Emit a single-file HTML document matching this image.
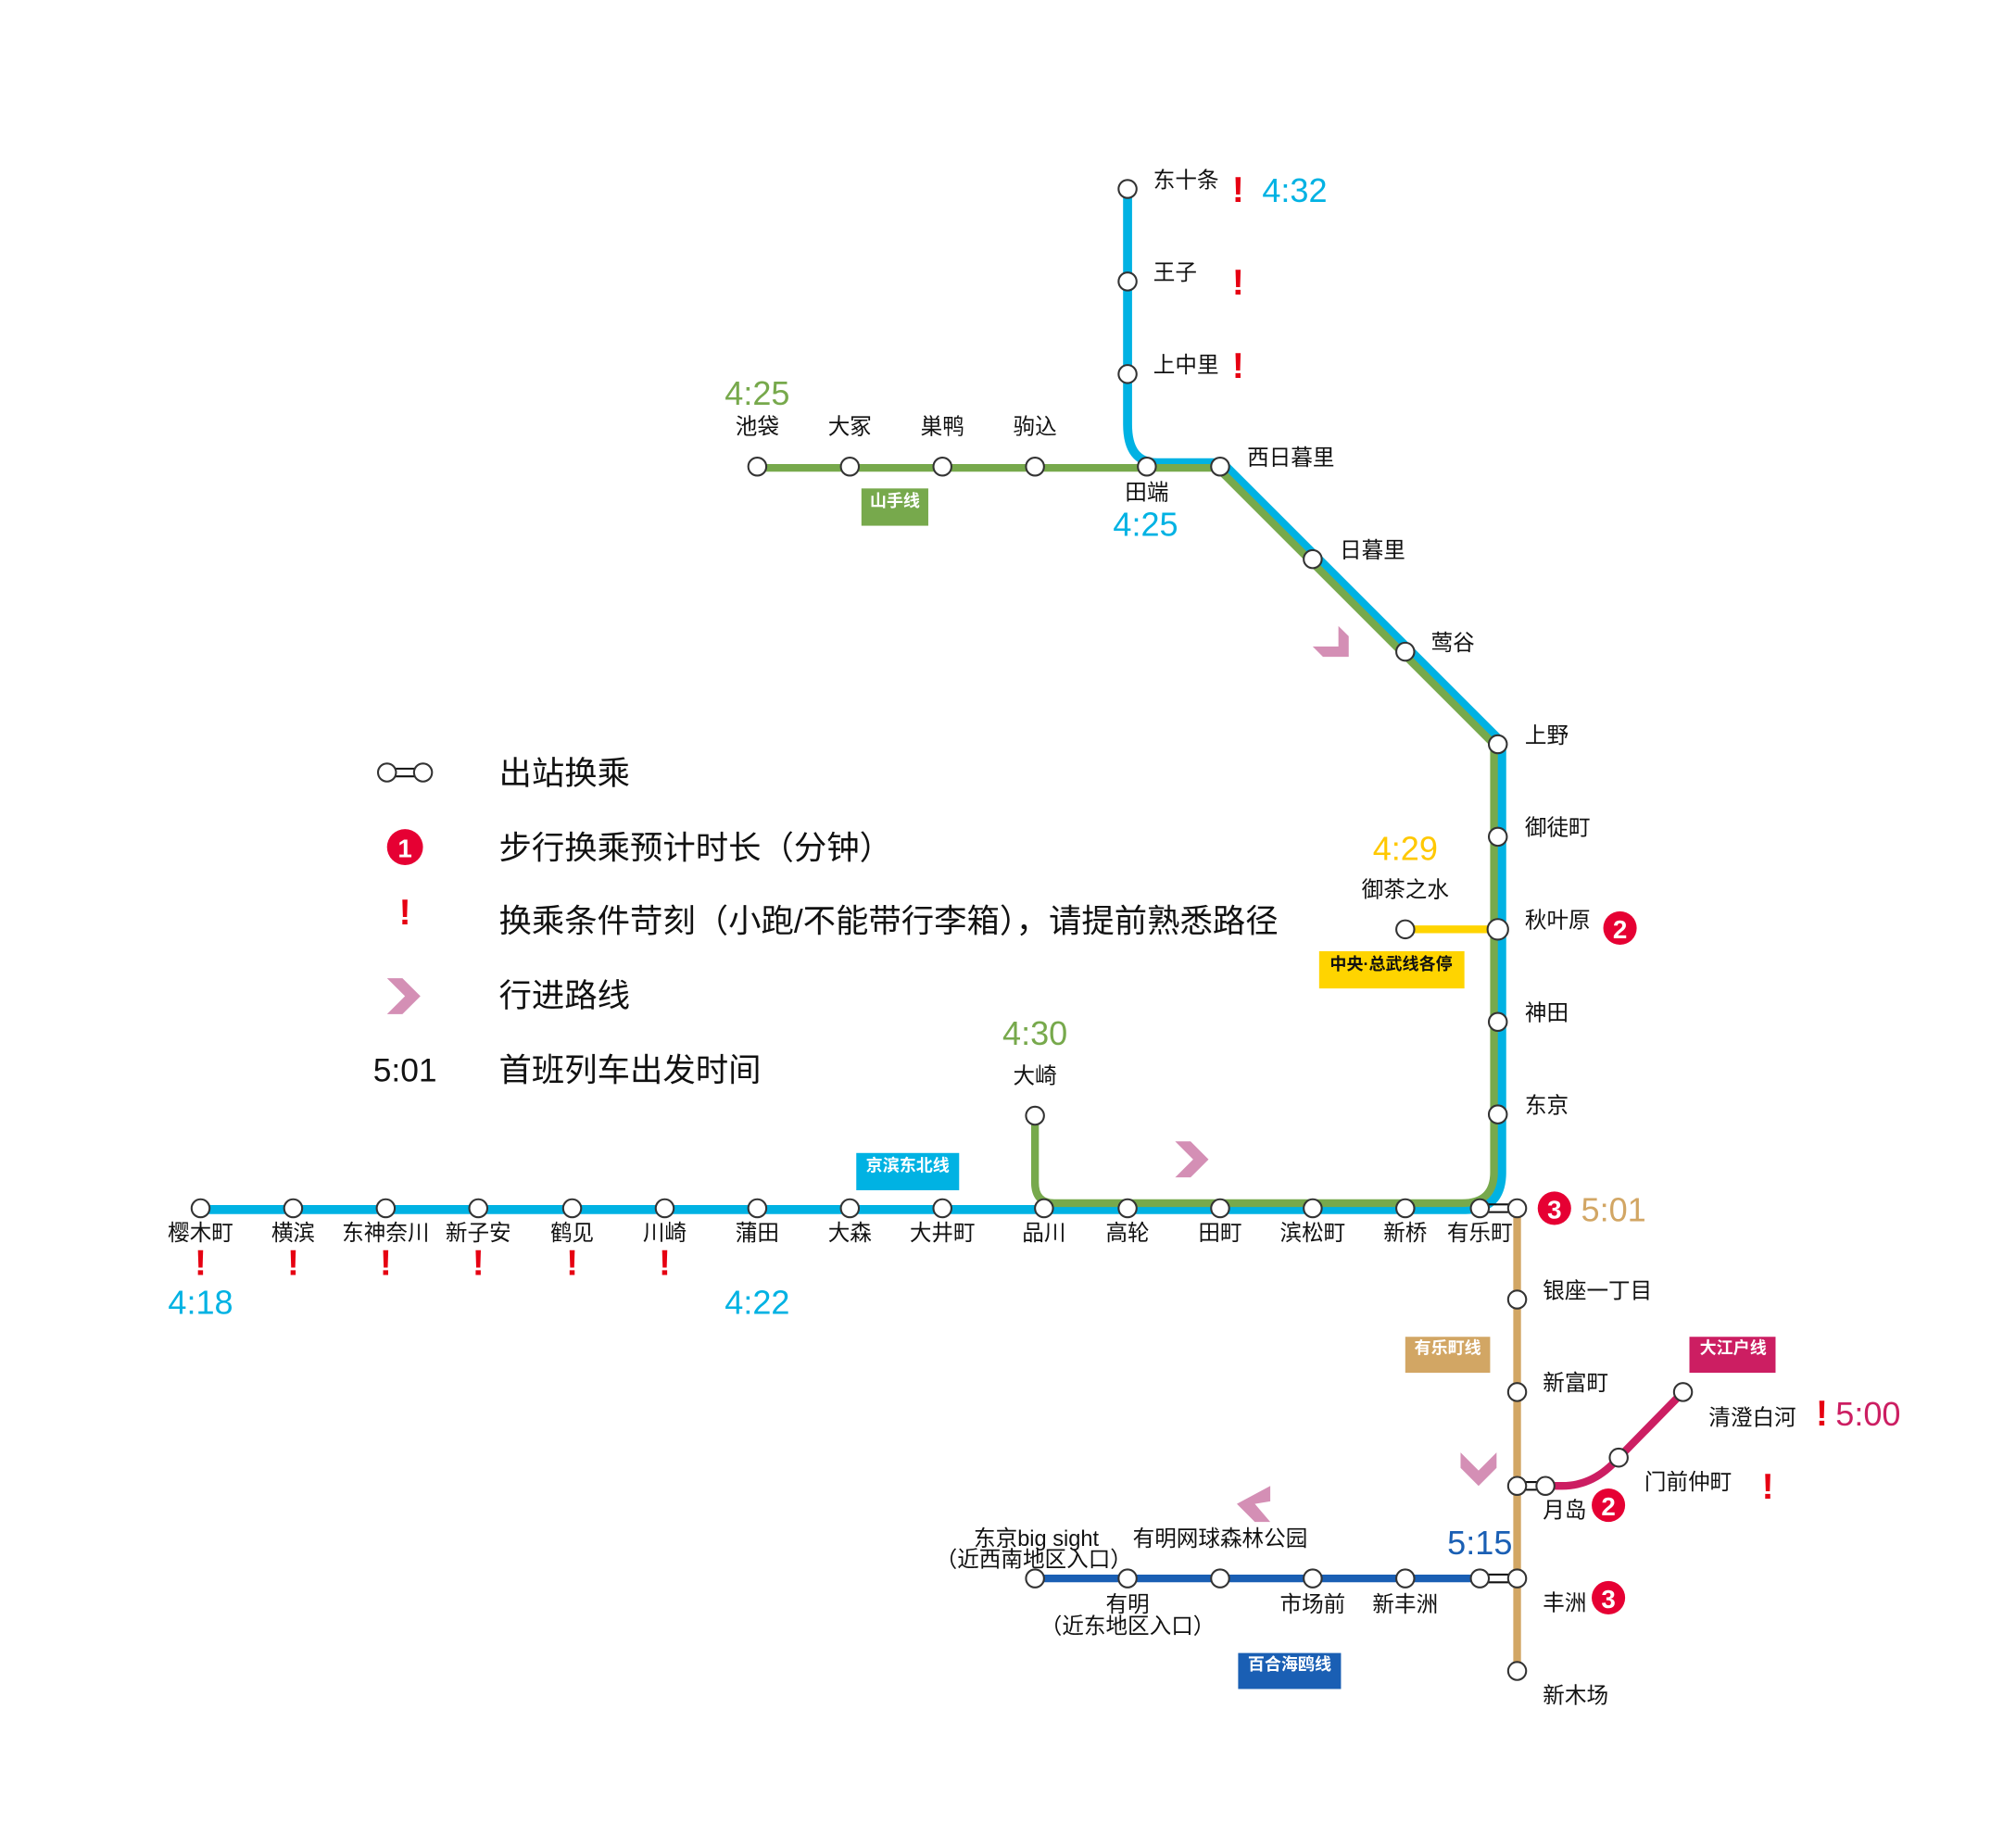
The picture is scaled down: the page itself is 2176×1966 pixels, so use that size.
<!DOCTYPE html>
<html><head><meta charset="utf-8"><style>html,body{margin:0;padding:0;background:#fff}svg{display:block}
text{font-family:"Liberation Sans","Noto Sans CJK SC",sans-serif;dominant-baseline:central}
.s{fill:#fff;stroke:#333;stroke-width:1.5}
.l{font-size:17px;fill:#111}
.t{font-size:26px}
.x{font-size:28px;fill:#e60012;font-weight:bold;text-anchor:middle}
.g{font-size:25.5px;fill:#111}
.b{font-size:13px;fill:#fff;font-weight:bold;text-anchor:middle}
.n{font-size:20px;fill:#fff;text-anchor:middle;font-weight:bold}
</style></head><body>
<svg width="2176" height="1966" viewBox="0 0 1568 1416.7" xmlns="http://www.w3.org/2000/svg">
<rect width="1568" height="1417" fill="#fff"/>
<path d="M877,147 L877,330 Q877,360 900,360 L950.5,360 L1168,577.5 L1168,912 Q1168,941 1140,941 L156,941" fill="none" stroke="#00b2e3" stroke-width="7"/>
<path d="M589,364 L947,364 L1162,579 L1162,912 Q1162,936 1137,936 L820,936 Q805,936 805,920 L805,868" fill="none" stroke="#77a94c" stroke-width="6"/>
<line x1="1093" y1="723" x2="1165" y2="723" stroke="#ffd400" stroke-width="6"/>
<line x1="1180" y1="940" x2="1180" y2="1300" stroke="#d2a664" stroke-width="6"/>
<path d="M1202,1156 L1215,1156 Q1240,1156 1259,1134 L1309,1083" fill="none" stroke="#cc1e62" stroke-width="6"/>
<line x1="805" y1="1228" x2="1151" y2="1228" stroke="#1a5fb4" stroke-width="6"/>
<g stroke="#111" stroke-width="1.5"><line x1="1151" y1="937" x2="1180" y2="937"/><line x1="1151" y1="943" x2="1180" y2="943"/>
<line x1="1180" y1="1153" x2="1202" y2="1153"/><line x1="1180" y1="1159" x2="1202" y2="1159"/>
<line x1="1151" y1="1225" x2="1180" y2="1225"/><line x1="1151" y1="1231" x2="1180" y2="1231"/>
<line x1="301" y1="598" x2="329" y2="598"/><line x1="301" y1="604" x2="329" y2="604"/></g>
<g class="s">
<circle cx="877" cy="147" r="7"/><circle cx="877" cy="219" r="7"/><circle cx="877" cy="291" r="7"/>
<circle cx="589" cy="363" r="7"/><circle cx="661" cy="363" r="7"/><circle cx="733" cy="363" r="7"/><circle cx="805" cy="363" r="7"/>
<circle cx="892" cy="363" r="7"/><circle cx="949" cy="363" r="7"/><circle cx="1021" cy="435" r="7"/><circle cx="1093" cy="507" r="7"/>
<circle cx="1165" cy="579" r="7"/><circle cx="1165" cy="651" r="7"/><circle cx="1165" cy="723" r="8"/><circle cx="1165" cy="795" r="7"/><circle cx="1165" cy="867" r="7"/>
<circle cx="1093" cy="723" r="7"/><circle cx="805" cy="868" r="7"/>
<circle cx="156" cy="940" r="7"/><circle cx="228" cy="940" r="7"/><circle cx="300" cy="940" r="7"/><circle cx="372" cy="940" r="7"/><circle cx="445" cy="940" r="7"/><circle cx="517" cy="940" r="7"/><circle cx="589" cy="940" r="7"/><circle cx="661" cy="940" r="7"/><circle cx="733" cy="940" r="7"/><circle cx="812" cy="940" r="7"/><circle cx="877" cy="940" r="7"/><circle cx="949" cy="940" r="7"/><circle cx="1021" cy="940" r="7"/><circle cx="1093" cy="940" r="7"/><circle cx="1151" cy="940" r="7"/>
<circle cx="1180" cy="940" r="7"/><circle cx="1180" cy="1011" r="7"/><circle cx="1180" cy="1083" r="7"/><circle cx="1180" cy="1156" r="7"/><circle cx="1180" cy="1228" r="7"/><circle cx="1180" cy="1300" r="7"/>
<circle cx="1202" cy="1156" r="7"/><circle cx="1259" cy="1134" r="7"/><circle cx="1309" cy="1083" r="7"/>
<circle cx="805" cy="1228" r="7"/><circle cx="877" cy="1228" r="7"/><circle cx="949" cy="1228" r="7"/><circle cx="1021" cy="1228" r="7"/><circle cx="1093" cy="1228" r="7"/><circle cx="1151" cy="1228" r="7"/>
<circle cx="301" cy="601" r="7"/><circle cx="329" cy="601" r="7"/>
</g>
<g class="l">
<text x="897" y="140">东十条</text><text x="897" y="212">王子</text><text x="897" y="284">上中里</text>
<g text-anchor="middle"><text x="589" y="332">池袋</text><text x="661" y="332">大冢</text><text x="733" y="332">巣鸭</text><text x="805" y="332">驹込</text><text x="892" y="383">田端</text>
<text x="1093" y="692">御茶之水</text><text x="805" y="837">大崎</text>
<text x="156" y="959">樱木町</text><text x="228" y="959">横滨</text><text x="300" y="959">东神奈川</text><text x="372" y="959">新子安</text><text x="445" y="959">鹤见</text><text x="517" y="959">川崎</text><text x="589" y="959">蒲田</text><text x="661" y="959">大森</text><text x="733" y="959">大井町</text><text x="812" y="959">品川</text><text x="877" y="959">高轮</text><text x="949" y="959">田町</text><text x="1021" y="959">滨松町</text><text x="1093" y="959">新桥</text><text x="1151" y="959">有乐町</text>
<text x="806" y="1197">东京big sight</text><text x="804" y="1213">（近西南地区入口）</text><text x="949" y="1197">有明网球森林公园</text>
<text x="877" y="1248">有明</text><text x="877" y="1265">（近东地区入口）</text><text x="1021" y="1248">市场前</text><text x="1093" y="1248">新丰洲</text></g>
<text x="970" y="356">西日暮里</text><text x="1042" y="428">日暮里</text><text x="1113" y="500">莺谷</text>
<text x="1186" y="572">上野</text><text x="1186" y="644">御徒町</text><text x="1186" y="716">秋叶原</text><text x="1186" y="788">神田</text><text x="1186" y="860">东京</text>
<text x="1200" y="1004">银座一丁目</text><text x="1200" y="1076">新富町</text><text x="1200" y="1175">月岛</text><text x="1200" y="1247">丰洲</text><text x="1200" y="1319">新木场</text>
<text x="1329" y="1103">清澄白河</text><text x="1279" y="1153">门前仲町</text>
</g>
<g class="t" text-anchor="middle">
<text x="1007" y="148" fill="#00b2e3">4:32</text><text x="589" y="306" fill="#77a94c">4:25</text><text x="891" y="408" fill="#00b2e3">4:25</text>
<text x="1093" y="660" fill="#ffc800">4:29</text><text x="805" y="804" fill="#77a94c">4:30</text>
<text x="156" y="1013" fill="#00b2e3">4:18</text><text x="589" y="1013" fill="#00b2e3">4:22</text>
<text x="1255" y="941" fill="#d2a664">5:01</text><text x="1453" y="1100" fill="#cc1e62">5:00</text><text x="1151" y="1200" fill="#1a5fb4">5:15</text>
</g>
<g class="x"><text x="963" y="148">!</text><text x="963" y="220">!</text><text x="963" y="285">!</text>
<text x="156" y="983">!</text><text x="228" y="983">!</text><text x="300" y="983">!</text><text x="372" y="983">!</text><text x="445" y="983">!</text><text x="517" y="983">!</text>
<text x="1417" y="1100">!</text><text x="1375" y="1157">!</text><text x="315" y="710">!</text></g>
<g fill="#e60033"><circle cx="1260" cy="722" r="13"/><circle cx="1209" cy="940" r="13"/><circle cx="1251" cy="1171" r="13"/><circle cx="1251" cy="1243" r="13"/><circle cx="315" cy="659" r="14"/></g>
<g class="n"><text x="1260" y="723">2</text><text x="1209" y="941">3</text><text x="1251" y="1172">2</text><text x="1251" y="1244">3</text><text x="315" y="660">1</text></g>
<rect x="670" y="380" width="52" height="29" fill="#77a94c"/><text class="b" x="696" y="390">山手线</text>
<rect x="666" y="897" width="80" height="29" fill="#00b2e3"/><text class="b" x="706" y="907">京滨东北线</text>
<rect x="1026" y="740" width="113" height="29" fill="#ffd400"/><text class="b" x="1082" y="750" style="fill:#111">中央·总武线各停</text>
<rect x="1093" y="1040" width="66" height="28" fill="#d2a664"/><text class="b" x="1126" y="1049">有乐町线</text>
<rect x="1314" y="1040" width="67" height="28" fill="#cc1e62"/><text class="b" x="1348" y="1049">大江户线</text>
<rect x="963" y="1286" width="80" height="28" fill="#1a5fb4"/><text class="b" x="1003" y="1295">百合海鸥线</text>
<g fill="#d48fb5">
<polygon points="1041,487 1049,495 1049,511 1029,511 1021,503 1041,503"/>
<polygon points="914,888 926,888 940,902 926,916 914,916 928,902"/>
<polygon points="1136,1130 1150,1144 1164,1130 1164,1142 1150,1156 1136,1142"/>
<polygon points="988,1156 988,1168 976,1170 988,1184 976,1184 962,1170"/>
<polygon points="301,761 313,761 327,775 313,789 301,789 315,775"/>
</g>
<g class="g"><text x="388" y="602">出站换乘</text><text x="388" y="660">步行换乘预计时长（分钟）</text><text x="388" y="717">换乘条件苛刻（小跑/不能带行李箱），请提前熟悉路径</text><text x="388" y="775">行进路线</text><text x="388" y="833">首班列车出发时间</text>
<text x="315" y="833" text-anchor="middle">5:01</text></g>
</svg>
</body></html>
